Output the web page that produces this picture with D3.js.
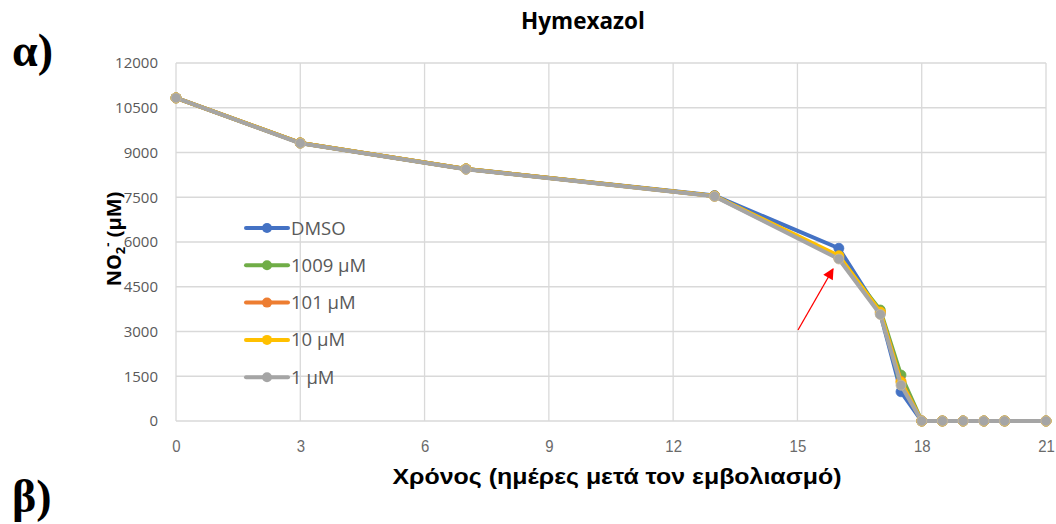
<!DOCTYPE html>
<html><head><meta charset="utf-8">
<script src="https://cdn.jsdelivr.net/npm/d3@7"></script>
<style>body{margin:0;background:#fff;}svg{display:block;}</style>
</head><body>
<svg id="c" width="1056" height="524"></svg>
<script>
const days = [0, 3, 7, 13, 16, 17, 17.5, 18, 18.5, 19, 19.5, 20, 21];
const seriesNames = ["DMSO", "1009 μM", "101 μM", "10 μM", "1 μM"];
const seriesColors = ["#4472C4", "#70AD47", "#ED7D31", "#FFC000", "#A5A5A5"];
const dmso   = [10830, 9320, 8450, 7555, 5790, 3600,  980, 0, 0, 0, 0, 0, 0];
const c1009  = [10830, 9320, 8450, 7540, 5480, 3720, 1540, 0, 0, 0, 0, 0, 0];
const c101   = [10830, 9320, 8450, 7540, 5480, 3650, 1330, 0, 0, 0, 0, 0, 0];
const c10    = [10830, 9320, 8450, 7540, 5540, 3650, 1300, 0, 0, 0, 0, 0, 0];
const c1     = [10830, 9310, 8440, 7530, 5430, 3570, 1200, 0, 0, 0, 0, 0, 0];
const seriesValues = [dmso, c1009, c101, c10, c1];
const xTicks = [0, 3, 6, 9, 12, 15, 18, 21];
const yTicks = [0, 1500, 3000, 4500, 6000, 7500, 9000, 10500, 12000];

const svg = d3.select("#c");
const x = d3.scaleLinear().domain([0, 21]).range([176, 1046]);
const y = d3.scaleLinear().domain([0, 12000]).range([421, 63]);

// gridlines
svg.append("g").selectAll("line.h").data(yTicks).join("line")
  .attr("x1", x(0)).attr("x2", x(21)).attr("y1", d => y(d)).attr("y2", d => y(d))
  .attr("stroke", "#d9d9d9").attr("stroke-width", 1.3);
svg.append("g").selectAll("line.v").data(xTicks).join("line")
  .attr("x1", d => x(d)).attr("x2", d => x(d)).attr("y1", y(0)).attr("y2", y(12000))
  .attr("stroke", "#d9d9d9").attr("stroke-width", 1.3);

// axes via d3
const yAxis = svg.append("g").attr("transform", `translate(${x(0)},0)`)
  .call(d3.axisLeft(y).tickValues(yTicks).tickFormat(d3.format("d")).tickSize(0).tickPadding(18));
yAxis.select(".domain").remove();
yAxis.selectAll("text").attr("font-family", "'Open Sans', 'Noto Sans', sans-serif")
  .attr("font-size", 15).attr("fill", "#595959");

const xAxis = svg.append("g").attr("transform", `translate(0,${y(0)})`)
  .call(d3.axisBottom(x).tickValues(xTicks).tickSize(0).tickPadding(19));
xAxis.select(".domain").remove();
xAxis.selectAll("text").attr("font-family", "'Liberation Sans', Arial, sans-serif")
  .attr("font-size", 17).attr("fill", "#6a6a6a").attr("transform", "scale(0.88,1)");

// series
const line = d3.line().x((d, i) => x(days[i])).y(d => y(d));
seriesValues.forEach((vals, k) => {
  const g = svg.append("g");
  g.append("path").datum(vals).attr("d", line).attr("fill", "none")
    .attr("stroke", seriesColors[k]).attr("stroke-width", 4).attr("stroke-linejoin", "round");
  g.selectAll("circle").data(vals).join("circle")
    .attr("cx", (d, i) => x(days[i])).attr("cy", d => y(d)).attr("r", 5)
    .attr("fill", seriesColors[k]).attr("stroke", k === 4 ? "#c8b99a" : seriesColors[k]).attr("stroke-width", 0.8);
});

// legend
seriesNames.forEach((name, k) => {
  const ly = 228 + k * 37.3;
  const g = svg.append("g");
  g.append("line").attr("x1", 246).attr("x2", 288).attr("y1", ly).attr("y2", ly)
    .attr("stroke", seriesColors[k]).attr("stroke-width", 4).attr("stroke-linecap", "round");
  g.append("circle").attr("cx", 267).attr("cy", ly).attr("r", 5).attr("fill", seriesColors[k]);
  g.append("text").attr("x", 291).attr("y", ly + 6.5).text(name)
    .attr("font-family", "'Open Sans', 'Noto Sans', sans-serif").attr("font-size", 18.5).attr("fill", "#595959");
});

// red arrow
const defs = svg.append("defs");
defs.append("marker").attr("id", "ah").attr("viewBox", "0 0 10 10").attr("refX", 9).attr("refY", 5)
  .attr("markerWidth", 12).attr("markerHeight", 11).attr("markerUnits", "userSpaceOnUse").attr("orient", "auto")
  .append("path").attr("d", "M0,0 L10,5 L0,10 z").attr("fill", "#ff0000");
svg.append("line").attr("x1", 798).attr("y1", 330).attr("x2", 833).attr("y2", 269)
  .attr("stroke", "#ff0000").attr("stroke-width", 1.3).attr("marker-end", "url(#ah)");

// title
svg.append("text").attr("x", 583).attr("y", 28.5).attr("text-anchor", "middle")
  .attr("font-family", "'Open Sans', 'Noto Sans', sans-serif").attr("font-weight", "bold")
  .attr("font-size", 22.5).attr("fill", "#000").text("Hymexazol");

// axis titles
svg.append("text").attr("transform", "translate(121,239) rotate(-90)").attr("text-anchor", "middle")
  .attr("font-family", "'Open Sans', 'Noto Sans', sans-serif").attr("font-weight", "bold")
  .attr("font-size", 20).attr("fill", "#000")
  .call(t => {
    t.append("tspan").text("NO");
    t.append("tspan").attr("font-size", 13).attr("dy", 4).text("2");
    t.append("tspan").attr("font-size", 13).attr("dy", -13).text("-");
    t.append("tspan").attr("dy", 9).text("\u00A0(μM)");
  });
svg.append("text").attr("x", 617).attr("y", 484).attr("text-anchor", "middle")
  .attr("font-family", "'Liberation Sans', Arial, sans-serif").attr("font-weight", "bold")
  .attr("font-size", 22).attr("fill", "#000")
  .attr("textLength", 449).attr("lengthAdjust", "spacingAndGlyphs")
  .text("Χρόνος (ημέρες μετά τον εμβολιασμό)");

// panel labels
svg.append("text").attr("x", 12).attr("y", 66).attr("font-family", "'Liberation Serif', serif")
  .attr("font-weight", "bold").attr("font-size", 46).attr("fill", "#000").text("α)");
svg.append("text").attr("x", 12).attr("y", 512).attr("font-family", "'Liberation Serif', serif")
  .attr("font-weight", "bold").attr("font-size", 46).attr("fill", "#000").text("β)");
</script>
</body></html>
